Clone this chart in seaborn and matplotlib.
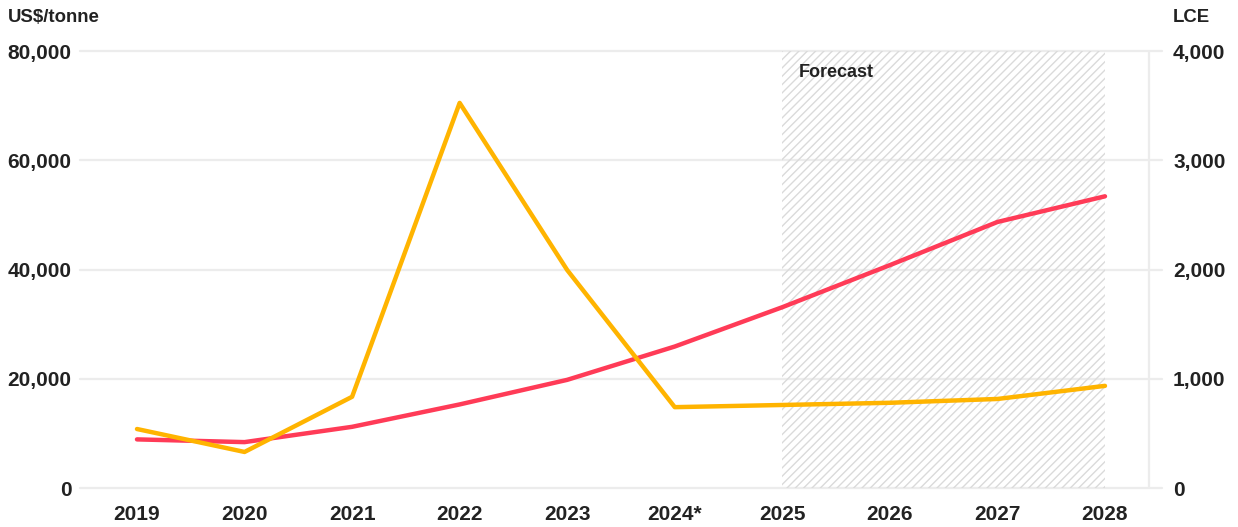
import matplotlib
matplotlib.use("Agg")
import matplotlib.pyplot as plt
import matplotlib.transforms as mtransforms
import numpy as np
import pandas as pd
import seaborn as sns

# Chart data
years = ["2019", "2020", "2021", "2022", "2023", "2024*", "2025", "2026", "2027", "2028"]
price_usd_t = [10800, 6600, 16700, 70500, 39900, 14800, 15200, 15600, 16300, 18700]
demand_lce = [445, 420, 560, 765, 990, 1295, 1655, 2040, 2435, 2670]
left_ticks = [0, 20000, 40000, 60000, 80000]
right_ticks = [0, 1000, 2000, 3000, 4000]
forecast_start, forecast_end = "2025", "2028"

YELLOW = "#FFB400"
RED = "#FF3B57"
GRID = "#ECECEC"
TEXT = "#222222"

sns.set_theme(style="white")
plt.rcParams["font.family"] = ["Liberation Sans", "DejaVu Sans"]
plt.rcParams["font.weight"] = "bold"
plt.rcParams["hatch.linewidth"] = 1.0

df = pd.DataFrame({"pos": np.arange(len(years)), "year": years,
                   "price": price_usd_t, "demand": demand_lce})

fig = plt.figure(figsize=(12.38, 5.27), dpi=100)
ax2 = fig.add_axes([0.0646, 0.074, 0.874, 0.8292])   # back: demand (LCE)
ax = ax2.twinx()                                      # front: price
ax.set_position(ax2.get_position())
ax.set_zorder(ax2.get_zorder() + 1)
ax.patch.set_visible(False)

xlo, xhi = -0.53, len(years) - 1 + 0.53
for a in (ax, ax2):
    for s in a.spines.values():
        s.set_visible(False)

# Lines
sns.lineplot(data=df, x="pos", y="demand", ax=ax2, color=RED, lw=3.2, zorder=3)
sns.lineplot(data=df, x="pos", y="price", ax=ax, color=YELLOW, lw=3.2, zorder=3)

ax2.set_xlim(xlo, xhi)
ax.set_ylim(left_ticks[0], left_ticks[-1])
ax2.set_ylim(right_ticks[0], right_ticks[-1])

# Gridlines and right boundary line
for v in right_ticks:
    ax2.axhline(v, color=GRID, lw=1.6, zorder=0, clip_on=False)
ax2.axvline(len(years) - 1 + 0.41, color=GRID, lw=1.6, zorder=0)

# Forecast band
x0, x1 = years.index(forecast_start), years.index(forecast_end)
ax2.axvspan(x0, x1, facecolor="none", edgecolor="#DADADA", hatch="////",
            linewidth=0, zorder=1)
trans = mtransforms.blended_transform_factory(ax2.transData, ax2.transAxes)
ax2.text(x0 + 0.15, 0.95, "Forecast", transform=trans, ha="left", va="center",
         fontsize=13, fontweight="bold", color=TEXT, zorder=5)

# Axis labels and ticks
for a in (ax, ax2):
    a.set_xlabel("")
    a.set_ylabel("")
ax2.set_xticks(df["pos"])
ax2.set_xticklabels(years)
ax2.set_xlim(xlo, xhi)
ax2.yaxis.tick_right()
ax.yaxis.tick_left()
ax.set_yticks(left_ticks)
ax.set_yticklabels([f"{v:,}" for v in left_ticks])
ax2.set_yticks(right_ticks)
ax2.set_yticklabels([f"{v:,}" for v in right_ticks])

ax.tick_params(axis="y", which="both", length=0, pad=6, labelsize=15,
               labelcolor=TEXT, left=False, right=False, labelleft=True, labelright=False)
ax2.tick_params(axis="y", which="both", length=0, pad=8, labelsize=15,
                labelcolor=TEXT, left=False, right=False, labelleft=False, labelright=True)
ax2.tick_params(axis="x", length=0, pad=12, labelsize=15, labelcolor=TEXT,
                labelbottom=True)
for lab in ax.get_yticklabels() + ax2.get_yticklabels() + ax2.get_xticklabels():
    lab.set_fontweight("bold")

fig.text(8 / 1238, 1 - 17 / 527, "US$/tonne", ha="left", va="center",
         fontsize=13.4, fontweight="bold", color=TEXT)
fig.text(1173 / 1238, 1 - 17 / 527, "LCE", ha="left", va="center",
         fontsize=13.4, fontweight="bold", color=TEXT)

fig.savefig("out.png", dpi=100)
